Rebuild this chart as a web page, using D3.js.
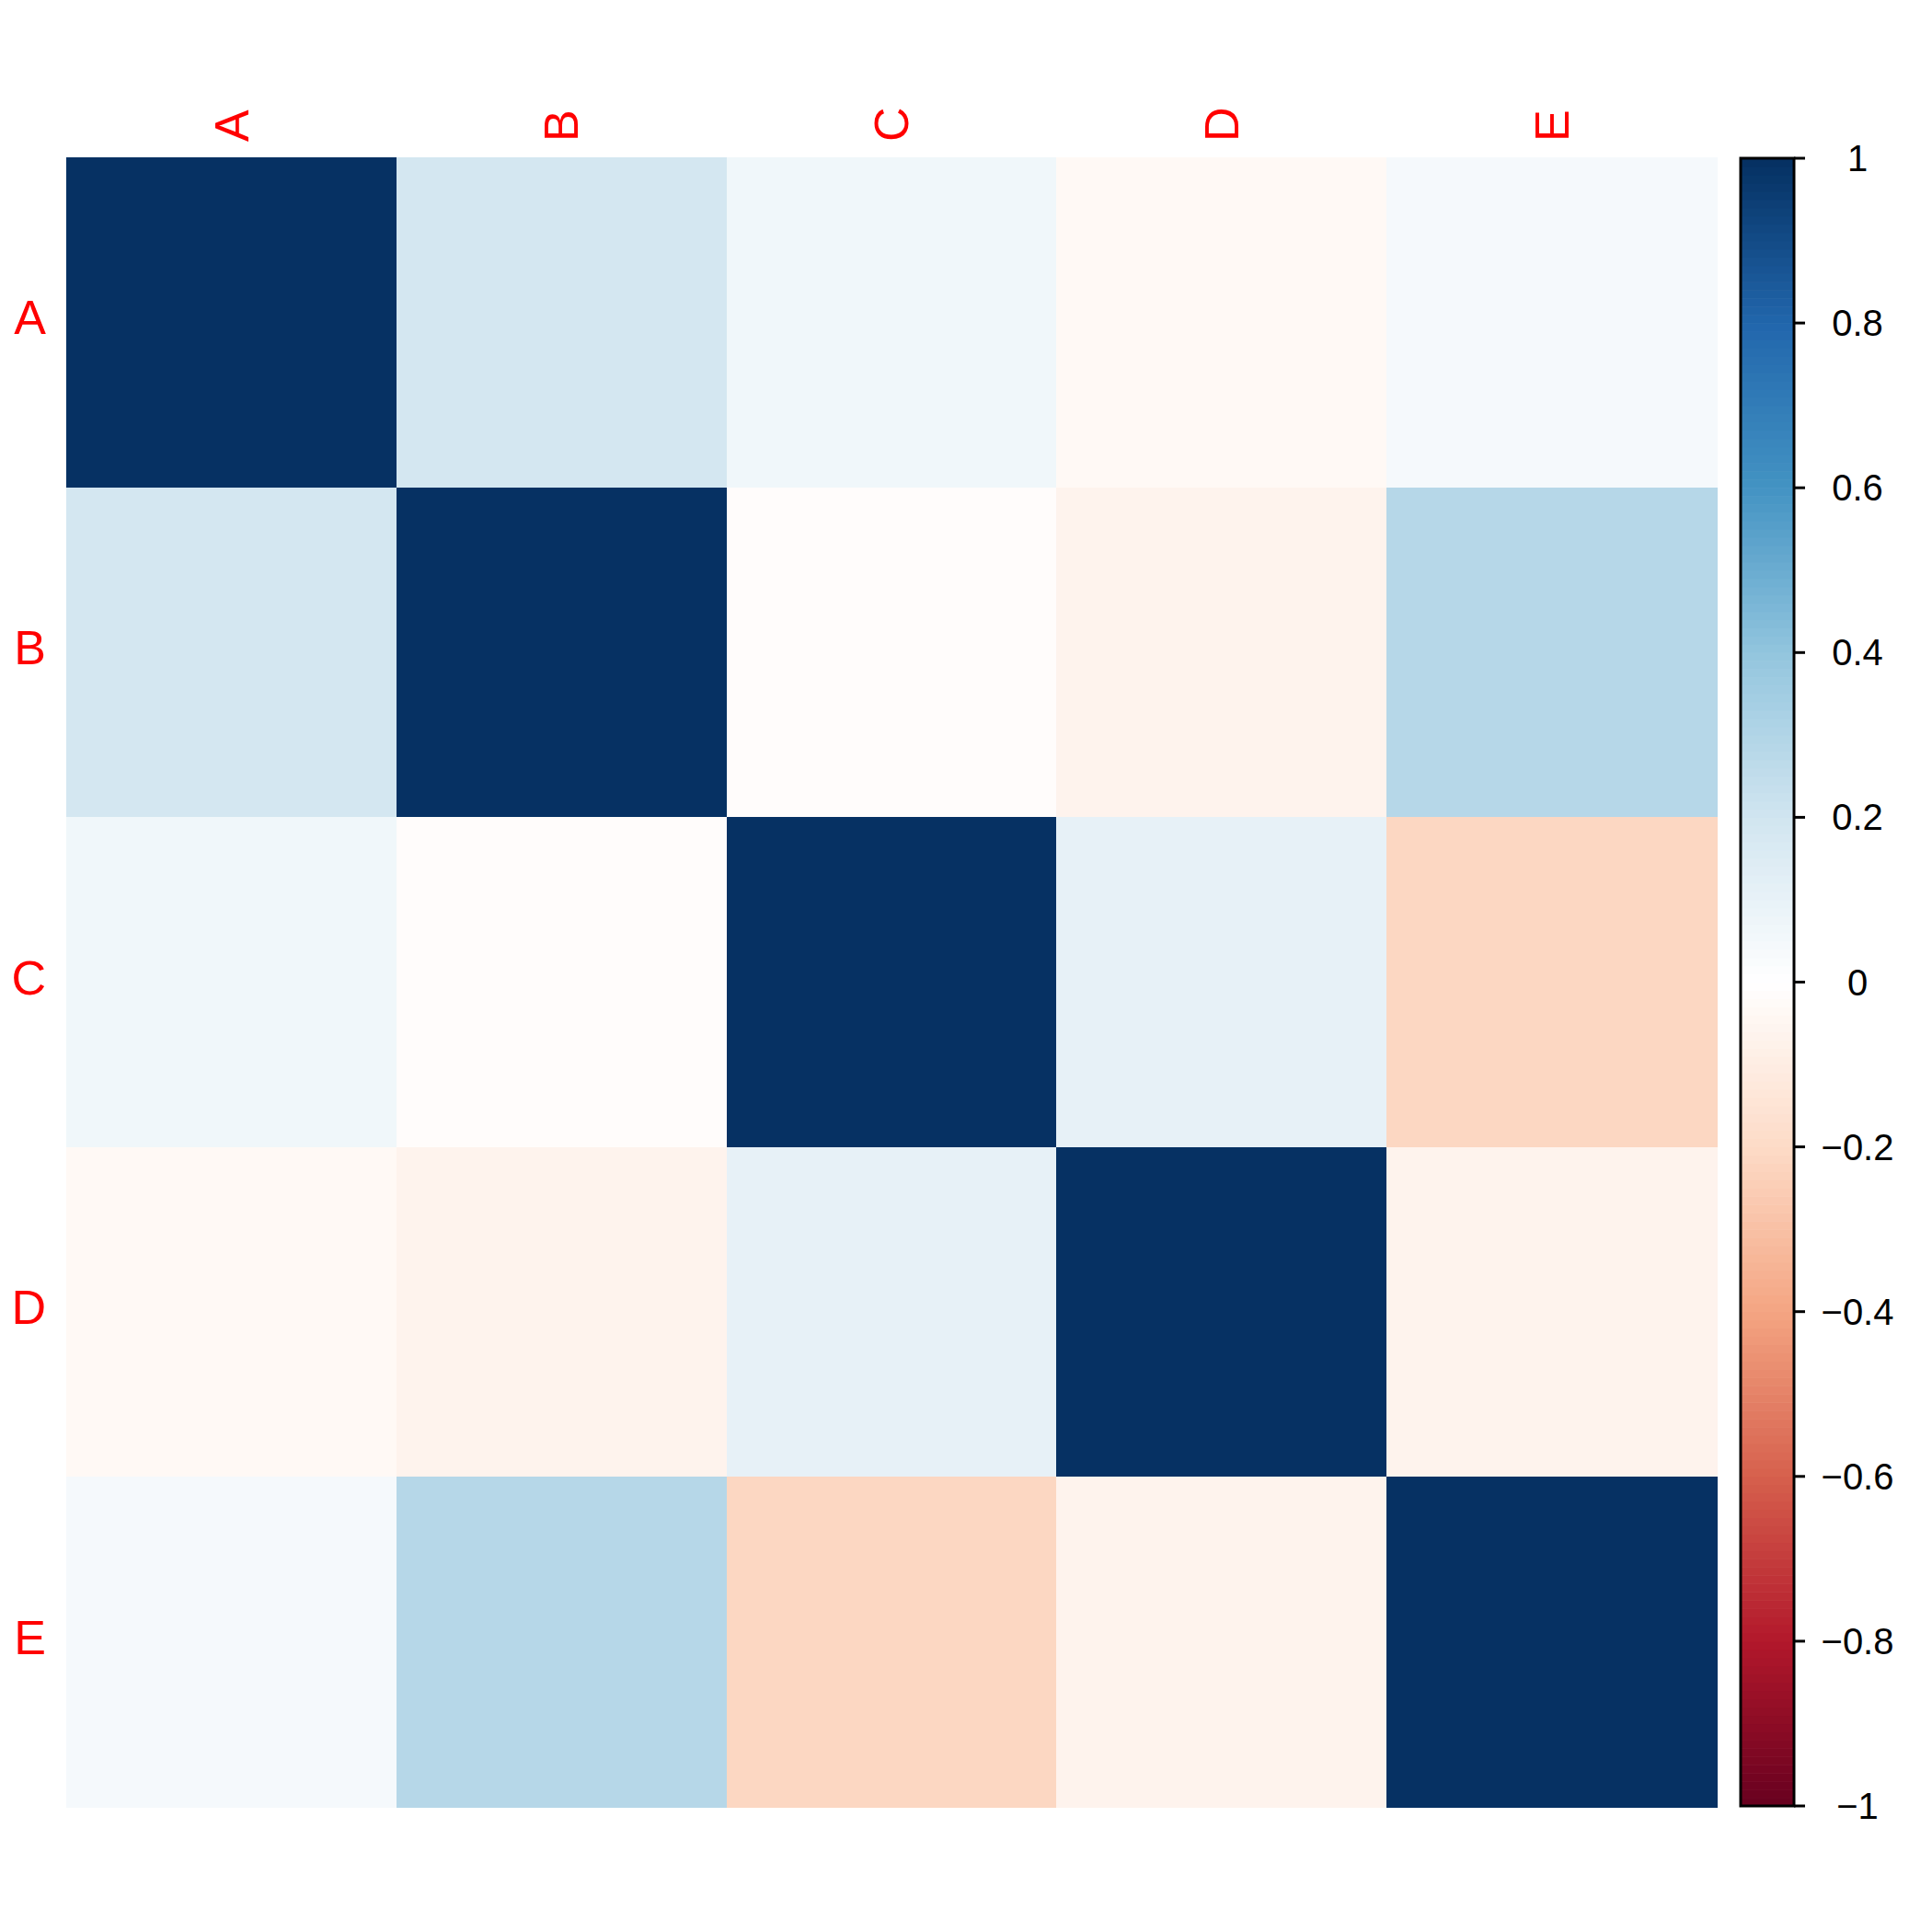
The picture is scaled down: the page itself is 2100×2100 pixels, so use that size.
<!DOCTYPE html>
<html>
<head>
<meta charset="utf-8">
<script src="https://cdn.jsdelivr.net/npm/d3@7"></script>
<style>
  html, body { margin: 0; padding: 0; background: #fff; }
  svg { display: block; }
</style>
</head>
<body>
<script>
// ---- data ----
const labels = ["A", "B", "C", "D", "E"];
const rowA = [1.00, 0.185, 0.06, -0.033, 0.04];
const rowB = [0.185, 1.00, -0.015, -0.067, 0.28];
const rowC = [0.06, -0.015, 1.00, 0.10, -0.215];
const rowD = [-0.033, -0.067, 0.10, 1.00, -0.067];
const rowE = [0.04, 0.28, -0.215, -0.067, 1.00];
const corr = [rowA, rowB, rowC, rowD, rowE];
const legendTicks = [-1, -0.8, -0.6, -0.4, -0.2, 0, 0.2, 0.4, 0.6, 0.8, 1];
const paletteStops = ["#67001F", "#B2182B", "#D6604D", "#F4A582", "#FDDBC7",
  "#FFFFFF", "#D1E5F0", "#92C5DE", "#4393C3", "#2166AC", "#053061"];

// ---- layout ----
const W = 2100, H = 2100;
const mx0 = 72, mx1 = 1866, my0 = 171, my1 = 1964;
const cbX0 = 1892, cbX1 = 1950, cbY0 = 172, cbY1 = 1963;

const svg = d3.select("body").append("svg").attr("width", W).attr("height", H);

const color = d3.scaleLinear()
  .domain(d3.range(paletteStops.length).map(i => -1 + i * 2 / (paletteStops.length - 1)))
  .range(paletteStops)
  .interpolate(d3.interpolateRgb);

// 200-colour discretised palette like corrplot
const nCol = 200;
const palette = d3.range(nCol).map(i => color(-1 + (i + 0.5) * 2 / nCol));
const colorOf = v => palette[Math.min(nCol - 1, Math.max(0, Math.floor((v + 1) / 2 * nCol)))];

const x = d3.scaleBand().domain(labels).range([mx0, mx1]);
const y = d3.scaleBand().domain(labels).range([my0, my1]);

const cells = [];
corr.forEach((row, i) => row.forEach((v, j) => cells.push({r: labels[i], c: labels[j], v})));

svg.append("g").selectAll("rect").data(cells).join("rect")
  .attr("x", d => x(d.c))
  .attr("y", d => y(d.r))
  .attr("width", x.bandwidth() + 0.5)
  .attr("height", y.bandwidth() + 0.5)
  .attr("fill", d => colorOf(d.v))
  .attr("shape-rendering", "crispEdges");

// column labels (rotated)
svg.append("g").selectAll("text").data(labels).join("text")
  .attr("transform", d => `translate(${x(d) + x.bandwidth() / 2},154) rotate(-90)`)
  .attr("dy", "0.35em")
  .attr("text-anchor", "start")
  .attr("font-family", "Liberation Sans, Arial, sans-serif")
  .attr("font-size", 52)
  .attr("fill", "#FF0000")
  .text(d => d);

// row labels
svg.append("g").selectAll("text").data(labels).join("text")
  .attr("x", 50)
  .attr("y", d => y(d) + y.bandwidth() / 2)
  .attr("dy", "0.25em")
  .attr("text-anchor", "end")
  .attr("font-family", "Liberation Sans, Arial, sans-serif")
  .attr("font-size", 52)
  .attr("fill", "#FF0000")
  .text(d => d);

// colour bar
const cbScale = d3.scaleLinear().domain([-1, 1]).range([cbY1, cbY0]);
const cb = svg.append("g");
cb.selectAll("rect").data(palette).join("rect")
  .attr("x", cbX0)
  .attr("width", cbX1 - cbX0)
  .attr("y", (d, i) => cbScale(-1 + (i + 1) * 2 / nCol))
  .attr("height", (cbY1 - cbY0) / nCol + 0.6)
  .attr("fill", d => d);
cb.append("rect")
  .attr("x", cbX0).attr("y", cbY0)
  .attr("width", cbX1 - cbX0).attr("height", cbY1 - cbY0)
  .attr("fill", "none").attr("stroke", "#000").attr("stroke-width", 3);

const fmt = v => {
  const s = (Math.round(v * 10) / 10).toString();
  return s.replace("-", "\u2212");
};
const tg = cb.append("g");
tg.selectAll("line").data(legendTicks).join("line")
  .attr("x1", cbX1).attr("x2", cbX1 + 12)
  .attr("y1", d => cbScale(d)).attr("y2", d => cbScale(d))
  .attr("stroke", "#000").attr("stroke-width", 3);
tg.selectAll("text").data(legendTicks).join("text")
  .attr("x", 2019)
  .attr("y", d => cbScale(d))
  .attr("dy", "0.35em")
  .attr("text-anchor", "middle")
  .attr("font-family", "Liberation Sans, Arial, sans-serif")
  .attr("font-size", 40)
  .attr("fill", "#000")
  .text(d => fmt(d));
</script>
</body>
</html>
